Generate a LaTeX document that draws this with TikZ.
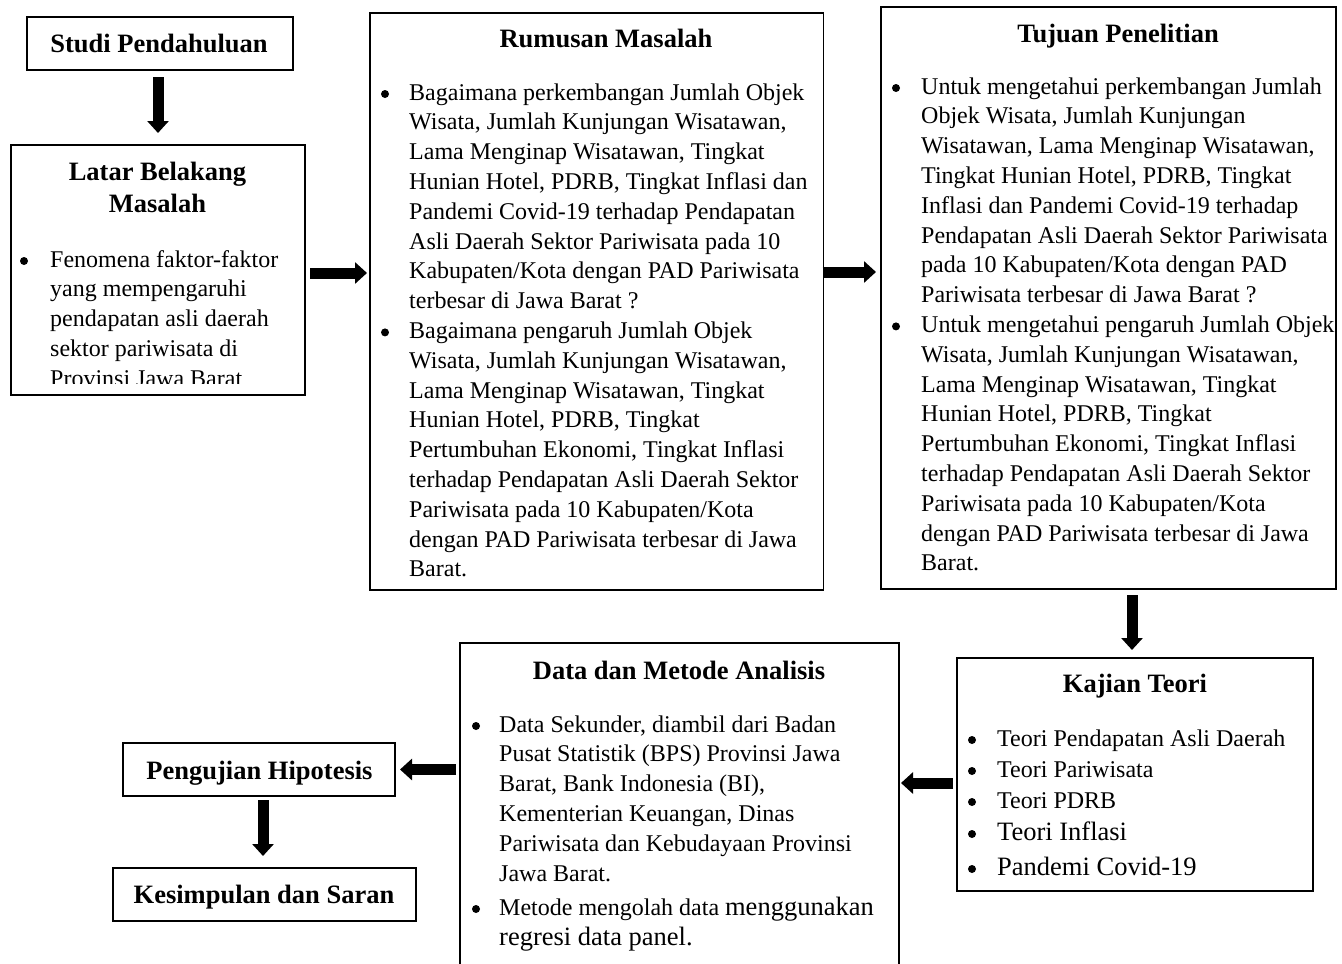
\documentclass[tikz,border=0pt]{standalone}
\usepackage{fontspec}
\setmainfont{Liberation Serif}
\usetikzlibrary{arrows.meta,calc}
\newcommand\bodyfnt{\fontsize{24}{29.8}\selectfont}
\newcommand\bigfnt{\fontsize{26.5}{30}\selectfont}
\newcommand\ttlfnt{\bfseries\fontsize{26.5}{32}\selectfont}
\tikzset{
  box/.style={draw, line width=1.2pt, inner sep=0pt, outer sep=0pt},
  ttl/.style={inner sep=0pt, anchor=base, font=\ttlfnt},
  txt/.style={inner sep=0pt, anchor=base west, align=left, font=\bodyfnt},
  blk/.style={line width=11pt, -{Triangle[width=21pt,length=12pt]}},
  dot/.style={fill=black}
}
\begin{document}
\begin{tikzpicture}[x=1pt,y=-1pt]
\useasboundingbox (0,0) rectangle (1342,964);
\fill[white] (0,0) rectangle (1342,964);

% boxes
\node[box, minimum width=266pt, minimum height=53pt] (studi) at (160,43.5) {};
\node[box, minimum width=294pt, minimum height=250pt] (latar) at (158,270) {};
\node[box, minimum width=453.5pt, minimum height=577pt] (rum) at (596.75,301.5) {};
\node[box, minimum width=455pt, minimum height=582pt] (tuj) at (1108.5,298) {};
\node[box, minimum width=356pt, minimum height=233pt] (kaj) at (1135,774.5) {};
\node[box, minimum width=439pt, minimum height=400pt] (data) at (679.5,843) {};
\node[box, minimum width=272pt, minimum height=53pt] (peng) at (259,769.5) {};
\node[box, minimum width=303pt, minimum height=53pt] (kes) at (264.5,894.5) {};

% titles
\node[ttl] (studiT) at (159,52) {Studi Pendahuluan};
\node[ttl] (latarT1) at (157.5,180) {Latar Belakang};
\node[ttl] (latarT2) at (157.5,212) {Masalah};
\node[ttl] (rumT) at (606,47) {Rumusan Masalah};
\node[ttl] (tujT) at (1118,42) {Tujuan Penelitian};
\node[ttl] (dataT) at (679,679) {Data dan Metode Analisis};
\node[ttl] (kajT) at (1135,692) {Kajian Teori};
\node[ttl] (pengT) at (259.5,779) {Pengujian Hipotesis};
\node[ttl] (kesT) at (264,903) {Kesimpulan dan Saran};

% Latar body (clipped like the original); base anchor = last line
\fill[dot] (24,261) circle (4pt);
\begin{scope}
\clip (12,147) rectangle (303,383);
\node[txt] (latarB) at (50,386.2) {Fenomena faktor-faktor\\yang mempengaruhi\\pendapatan asli daerah\\sektor pariwisata di\\Provinsi Jawa Barat};
\end{scope}

% Rumusan body
\fill[dot] (385,94) circle (4pt);
\node[txt] (rumB1) at (409,308.6) {Bagaimana perkembangan Jumlah Objek\\Wisata, Jumlah Kunjungan Wisatawan,\\Lama Menginap Wisatawan, Tingkat\\Hunian Hotel, PDRB, Tingkat Inflasi dan\\Pandemi Covid-19 terhadap Pendapatan\\Asli Daerah Sektor Pariwisata pada 10\\Kabupaten/Kota dengan PAD Pariwisata\\terbesar di Jawa Barat ?};
\fill[dot] (385,332.4) circle (4pt);
\node[txt] (rumB2) at (409,576.8) {Bagaimana pengaruh Jumlah Objek\\Wisata, Jumlah Kunjungan Wisatawan,\\Lama Menginap Wisatawan, Tingkat\\Hunian Hotel, PDRB, Tingkat\\Pertumbuhan Ekonomi, Tingkat Inflasi\\terhadap Pendapatan Asli Daerah Sektor\\Pariwisata pada 10 Kabupaten/Kota\\dengan PAD Pariwisata terbesar di Jawa\\Barat.};

% Tujuan body
\fill[dot] (896,88) circle (4pt);
\node[txt] (tujB1) at (921,302.6) {Untuk mengetahui perkembangan Jumlah\\Objek Wisata, Jumlah Kunjungan\\Wisatawan, Lama Menginap Wisatawan,\\Tingkat Hunian Hotel, PDRB, Tingkat\\Inflasi dan Pandemi Covid-19 terhadap\\Pendapatan Asli Daerah Sektor Pariwisata\\pada 10 Kabupaten/Kota dengan PAD\\Pariwisata terbesar di Jawa Barat ?};
\fill[dot] (896,326.4) circle (4pt);
\node[txt] (tujB2) at (921,570.8) {Untuk mengetahui pengaruh Jumlah Objek\\Wisata, Jumlah Kunjungan Wisatawan,\\Lama Menginap Wisatawan, Tingkat\\Hunian Hotel, PDRB, Tingkat\\Pertumbuhan Ekonomi, Tingkat Inflasi\\terhadap Pendapatan Asli Daerah Sektor\\Pariwisata pada 10 Kabupaten/Kota\\dengan PAD Pariwisata terbesar di Jawa\\Barat.};

% Data body
\fill[dot] (476,726) circle (4pt);
\node[txt] (dataB1) at (499,881) {Data Sekunder, diambil dari Badan\\Pusat Statistik (BPS) Provinsi Jawa\\Barat, Bank Indonesia (BI),\\Kementerian Keuangan, Dinas\\Pariwisata dan Kebudayaan Provinsi\\Jawa Barat.};
\fill[dot] (476,909) circle (4pt);
\node[txt] (dataB2) at (499,915) {Metode mengolah data {\bigfnt menggunakan}};
\node[txt, font=\bigfnt] (dataB3) at (499,945) {regresi data panel.};

% Kajian body
\fill[dot] (972,740) circle (4pt);
\node[txt] (kajB1) at (997,746) {Teori Pendapatan Asli Daerah};
\fill[dot] (972,771) circle (4pt);
\node[txt] (kajB2) at (997,777) {Teori Pariwisata};
\fill[dot] (972,802) circle (4pt);
\node[txt] (kajB3) at (997,808) {Teori PDRB};
\fill[dot] (972,834) circle (4pt);
\node[txt, font=\bigfnt] (kajB4) at (997,840) {Teori Inflasi};
\fill[dot] (972,869) circle (4pt);
\node[txt, font=\bigfnt] (kajB5) at (997,875) {Pandemi Covid-19};

% arrows
\draw[blk, shorten <=7pt, shorten >=12pt] (latar.north |- studi.south) -- (latar.north);
\draw[blk, shorten <=5pt, shorten >=3pt] ([yshift=-3pt]latar.east) -- ([yshift=-3pt]latar.east -| rum.west);
\draw[blk, shorten <=-1pt, shorten >=5pt] ([yshift=29.5pt]rum.east) -- ([yshift=29.5pt]rum.east -| tuj.west);
\draw[blk, shorten <=6pt, shorten >=8pt] ([xshift=23.5pt]tuj.south) -- ([xshift=23.5pt]tuj.south |- kaj.north);
\draw[blk, shorten <=4pt, shorten >=2pt] ([yshift=-8.5pt]kaj.west) -- ([yshift=-8.5pt]kaj.west -| data.east);
\draw[blk, shorten <=4pt, shorten >=5pt] (peng.east -| data.west) -- (peng.east);
\draw[blk, shorten <=4pt, shorten >=12pt] ([xshift=4pt]peng.south) -- ([xshift=4pt]peng.south |- kes.north);
\end{tikzpicture}
\end{document}
